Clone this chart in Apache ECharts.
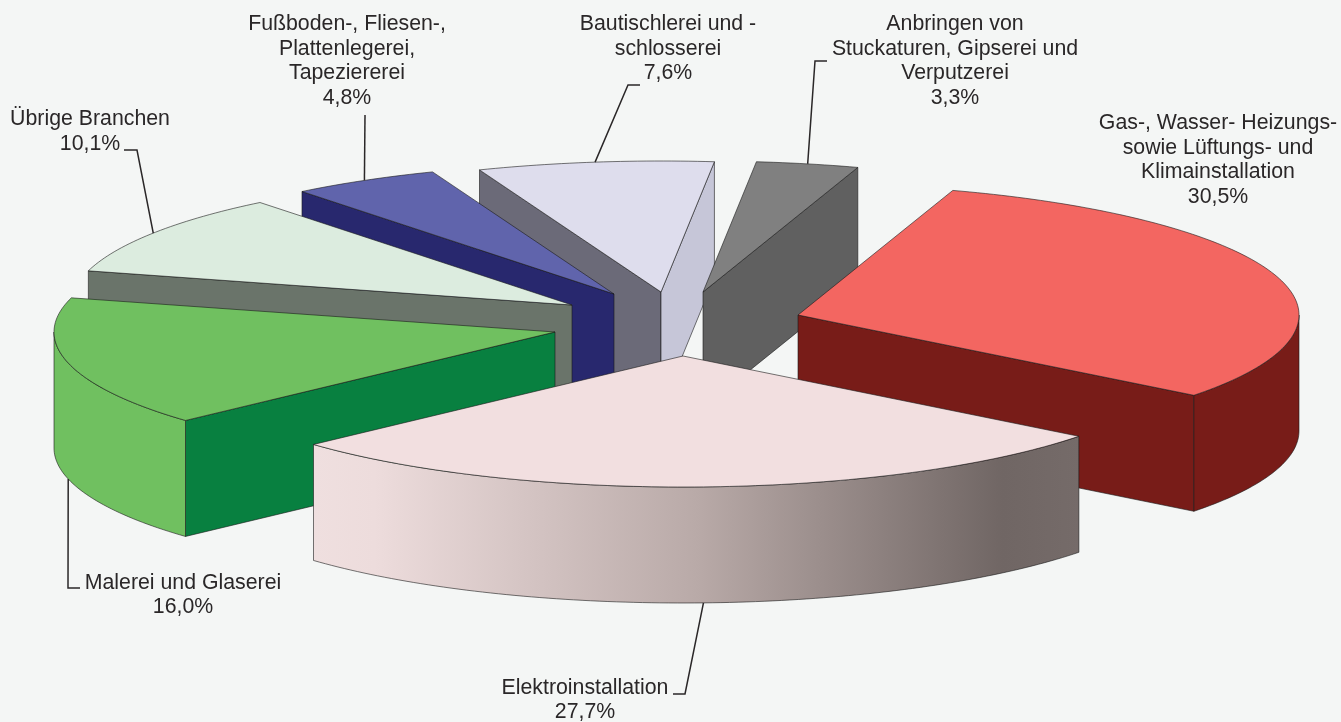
<!DOCTYPE html>
<html><head><meta charset="utf-8">
<style>html,body{margin:0;padding:0;background:#f4f6f5}#c{width:1341px;height:722px}</style>
<script src="https://cdn.jsdelivr.net/npm/echarts@6/dist/echarts.min.js"></script>
</head><body><div id="c"></div>
<script>
// ---- data ----
const categories = ["Gas-, Wasser- Heizungs-\nsowie Lüftungs- und\nKlimainstallation","Elektroinstallation","Malerei und Glaserei","Übrige Branchen","Fußboden-, Fliesen-,\nPlattenlegerei,\nTapeziererei","Bautischlerei und -\nschlosserei","Anbringen von\nStuckaturen, Gipserei und\nVerputzerei"];
const shares = [30.5,27.7,16.0,10.1,4.8,7.6,3.3];
const shareLabels = ["30,5%","27,7%","16,0%","10,1%","4,8%","7,6%","3,3%"];

// ---- layout & style ----
const startAngle = 72, RX = 501, RY = 131, H = 116;
const apex = [[798,315],[683,356],[555,332],[572,305],[614,294],[661,292],[703,292]];
const paint = [6,7,4,3,2,1,5];
const topFill = ['#f36661','#f2dfe0','#70c060','#dcecdf','#6064ac','#dedded','#808080'];
const wallStart = ['#781c18','#f2dfe0','#088040','#6a746a','#28286e','#6b6a78','#606060'];
const wallEnd = ['#781c18','#f2dfe0','#70c060','#6a746a','#28286e','#c6c6d8','#606060'];
const outerFill = ['#781c18',null,'#70c060','#6a746a','#28286e','#c6c6d8','#606060'];
const elektroStops = [[0,'#efdfdf'],[0.08,'#eddcdc'],[0.5,'#b9aaa8'],[0.9,'#706664'],[1,'#756b69']];
const labelPos = [[1218,160],[585,700],[183,595],[90,131.5],[347,61],[668,49],[955,61]];
const leaders = [null,[[685,694],[673,694]],[[68,588],[80,588]],[[137,150],[124,150]],[[365,115]],[[628,85],[640,85]],[[815,61],[827,61]]];
const FONT = '21.3px "Liberation Sans",Arial,sans-serif';
const INK = '#2a2728';

const total = shares.reduce((a,b)=>a+b,0);
const ranges = []; let cur = startAngle;
shares.forEach(s=>{const n=cur-s/total*360;ranges.push([cur,n]);cur=n;});
const rim = (i,deg,dz)=>{const t=deg*Math.PI/180;return [apex[i][0]+RX*Math.cos(t),apex[i][1]-RY*Math.sin(t)+(dz||0)];};
const arc = (i,a,b,dz)=>{const n=Math.max(2,Math.ceil(Math.abs(a-b)));const p=[];for(let k=0;k<=n;k++)p.push(rim(i,a+(b-a)*k/n,dz));return p;};
const cosd = d=>Math.cos(d*Math.PI/180);
const edge = {stroke:'#1a1a1a',lineWidth:0.6};

function renderItem(params, api){
  const i = params.dataIndex, r=[api.value(1),api.value(2)], z=paint[i]*10, ch=[];
  const A=apex[i], Ab=[A[0],A[1]+H];
  const poly=(pts,fill,zz)=>ch.push({type:'polygon',z2:zz,shape:{points:pts},style:Object.assign({fill},edge)});
  const pa=rim(i,r[0]), pb=rim(i,r[1]);
  if(cosd(r[0])<0) poly([A,pa,[pa[0],pa[1]+H],Ab],wallStart[i],z);
  if(cosd(r[1])>0) poly([A,pb,[pb[0],pb[1]+H],Ab],wallEnd[i],z+1);
  // outer wall: only the front-facing part of the rim
  const lo=Math.max(r[1],-180), hi=Math.min(r[0],0);
  if(hi>lo){
    const pts=arc(i,hi,lo).concat(arc(i,lo,hi,H));
    let f=outerFill[i];
    if(!f) f=new echarts.graphic.LinearGradient(0,0,1,0,elektroStops.map(s=>({offset:s[0],color:s[1]})));
    poly(pts,f,z+2);
  }
  poly([A].concat(arc(i,r[0],r[1])),topFill[i],z+3);
  const mid=(r[0]+r[1])/2;
  if(leaders[i]){
    const s=rim(i,mid,Math.sin(mid*Math.PI/180)<0?H:0);
    ch.push({type:'polyline',z2:200,shape:{points:[s].concat(leaders[i])},style:{stroke:INK,lineWidth:1.5,fill:null}});
  }
  ch.push({type:'text',z2:201,x:labelPos[i][0],y:labelPos[i][1],style:{text:api.value(3)+'\n'+api.value(4),font:FONT,fill:INK,align:'center',verticalAlign:'middle',lineHeight:24.5}});
  return {type:'group',children:ch};
}

const chart = echarts.init(document.getElementById('c'),null,{renderer:'canvas'});
chart.setOption({
  backgroundColor:'#f4f6f5',animation:false,
  series:[{type:'custom',coordinateSystem:'none',renderItem,
    data:categories.map((c,i)=>[shares[i],ranges[i][0],ranges[i][1],c,shareLabels[i]]),
    silent:true}]
});
</script></body></html>
